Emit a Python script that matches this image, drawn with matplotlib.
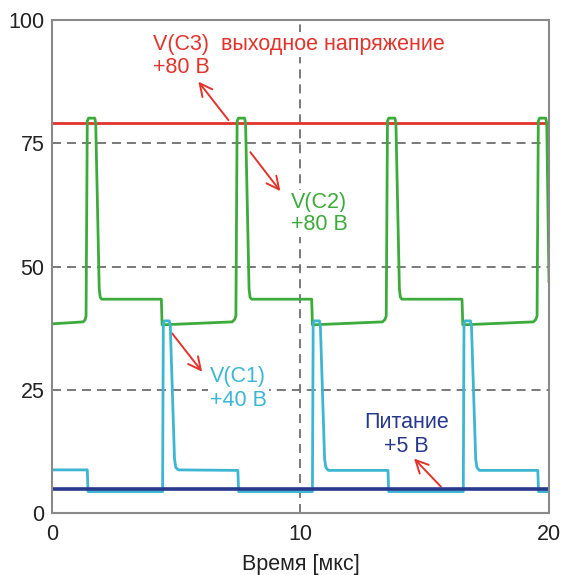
import matplotlib
matplotlib.use("Agg")
import matplotlib.pyplot as plt

plt.rcParams['font.family'] = ['Liberation Sans', 'DejaVu Sans']

# V(C3) - output voltage, flat
t_c3 = [0, 20]
v_c3 = [79.2, 79.2]

# supply +5 V
t_vcc = [0, 20]
v_vcc = [5.0, 5.0]

# V(C2) breakpoints
t_c2 = [0, 1.25, 1.33, 1.37, 1.42, 1.47, 1.72, 1.76, 1.90, 1.94, 2.00, 4.40, 4.43,
        7.25, 7.35, 7.40, 7.45, 7.50, 7.75, 7.79, 7.93, 7.97, 8.03, 10.45, 10.48,
        13.30, 13.40, 13.45, 13.50, 13.55, 13.80, 13.84, 13.98, 14.02, 14.08, 16.50, 16.53,
        19.37, 19.47, 19.52, 19.57, 19.62, 19.87, 19.91, 20.0]
v_c2 = [38.4, 38.8, 39.2, 40.0, 79.5, 80.1, 80.1, 79.0, 45.5, 43.8, 43.4, 43.4, 38.2,
        38.8, 39.3, 40.0, 79.5, 80.1, 80.1, 79.0, 45.5, 43.8, 43.4, 43.4, 38.2,
        38.8, 39.3, 40.0, 79.5, 80.1, 80.1, 79.0, 45.5, 43.8, 43.4, 43.4, 38.2,
        38.8, 39.3, 40.0, 79.5, 80.1, 80.1, 79.0, 47.0]

# V(C1) breakpoints
t_c1 = [0, 1.42, 1.45, 4.45, 4.48, 4.52, 4.72, 4.76, 4.93, 4.98, 5.08, 7.48, 7.51,
        10.48, 10.51, 10.55, 10.76, 10.80, 10.97, 11.02, 11.12, 13.52, 13.55,
        16.55, 16.58, 16.62, 16.84, 16.88, 17.05, 17.10, 17.20, 19.55, 19.58, 20.0]
v_c1 = [8.8, 8.8, 4.4, 4.4, 38.5, 39.0, 39.0, 38.0, 11.0, 9.3, 8.8, 8.7, 4.4,
        4.4, 38.5, 39.0, 39.0, 38.0, 11.0, 9.3, 8.7, 8.7, 4.4,
        4.4, 38.5, 39.0, 39.0, 38.0, 11.0, 9.3, 8.7, 8.7, 4.4, 4.4]

x_ticks = [0, 10, 20]
y_ticks = [0, 25, 50, 75, 100]

RED = "#e2342c"
GREEN = "#3cab3c"
CYAN = "#3cb6d3"
NAVY = "#27398c"
FS = 15.5

fig = plt.figure(figsize=(5.64, 5.75), dpi=100)
ax = fig.add_axes([0.0922, 0.1073, 0.8812, 0.858])
ax.set_axisbelow(True)

ax.plot(t_c3, v_c3, color=RED, lw=2.0, zorder=3)
ax.plot(t_c2, v_c2, color=GREEN, lw=2.0, zorder=4)
ax.plot(t_c1, v_c1, color=CYAN, lw=2.0, zorder=5)
ax.plot(t_vcc, v_vcc, color=NAVY, lw=2.6, zorder=6)

ax.set_xlim(0, 20)
ax.set_ylim(0, 100)
ax.set_xticks(x_ticks)
ax.set_yticks(y_ticks)
ax.tick_params(length=0, labelsize=FS, colors="#222222")
ax.tick_params(axis='x', pad=8)
ax.tick_params(axis='y', pad=5.5)
ax.grid(True, color="#6e6e6e", lw=1.3, linestyle=(0, (5, 3.3)))
for s in ax.spines.values():
    s.set_color("#8a8a8a")
    s.set_linewidth(1.5)
    s.set_zorder(7)
ax.set_xlabel("Время [мкс]", fontsize=FS, color="#222222", labelpad=6)

arrow = dict(arrowstyle="->,head_length=0.9,head_width=0.45", color=RED, lw=1.4,
             shrinkA=0, shrinkB=0)
box = dict(facecolor="white", edgecolor="none", pad=1.5)


def label(x, y, s, color, ha="left"):
    ax.text(x, y, s, color=color, fontsize=FS, ha=ha, va="baseline",
            bbox=box, zorder=2)


label(4.07, 93.9, "V(C3)  выходное напряжение", RED)
label(4.07, 89.2, "+80 В", RED)
ax.annotate("", xy=(5.89, 87.5), xytext=(7.1, 79.7), arrowprops=arrow)

label(9.6, 61.8, "V(C2)", GREEN)
label(9.6, 57.4, "+80 В", GREEN)
ax.annotate("", xy=(9.19, 65.3), xytext=(7.98, 73.2), arrowprops=arrow)

label(6.37, 26.7, "V(C1)", CYAN)
label(6.37, 21.75, "+40 В", CYAN)
ax.annotate("", xy=(6.04, 28.7), xytext=(4.83, 36.5), arrowprops=arrow)

label(14.27, 17.2, "Питание", NAVY, ha="center")
label(14.27, 12.4, "+5 В", NAVY, ha="center")
ax.annotate("", xy=(14.57, 11.1), xytext=(15.65, 5.4), arrowprops=arrow)

fig.savefig("out.png", dpi=100)
